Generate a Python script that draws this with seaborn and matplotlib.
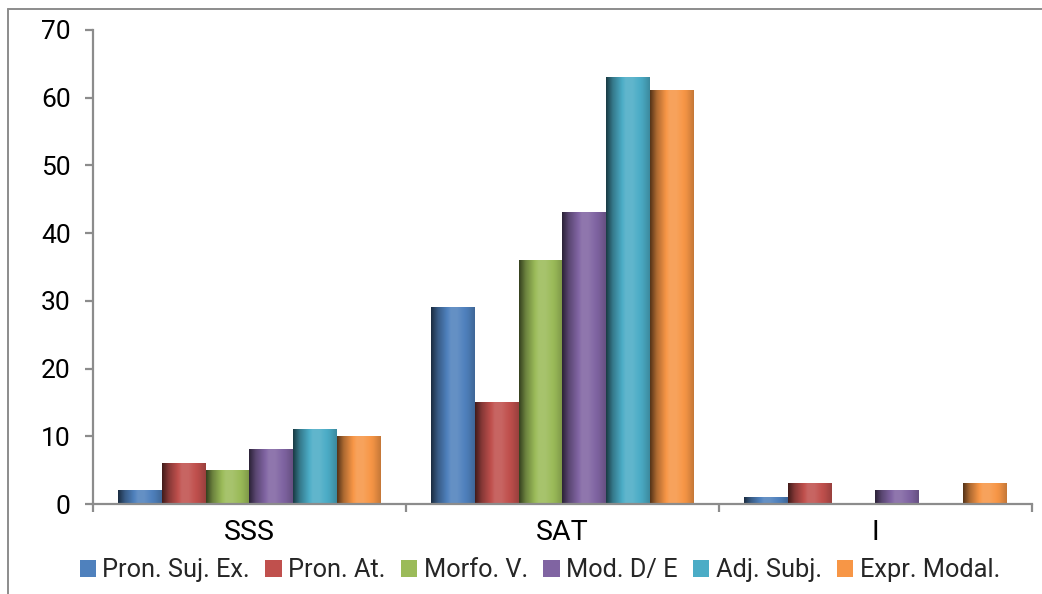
import numpy as np
import pandas as pd
import seaborn as sns
import matplotlib
matplotlib.use("Agg")
import matplotlib.pyplot as plt
from matplotlib.patches import Patch
from matplotlib.lines import Line2D
from matplotlib import colors as mcolors
from matplotlib import font_manager

categories = ["SSS", "SAT", "I"]
series = ["Pron. Suj. Ex.", "Pron. At.", "Morfo. V.", "Mod. D/ E", "Adj. Subj.", "Expr. Modal."]
pron_suj_ex = [2, 29, 1]
pron_at = [6, 15, 3]
morfo_v = [5, 36, 0]
mod_de = [8, 43, 2]
adj_subj = [11, 63, 0]
expr_modal = [10, 61, 3]
y_ticks = [0, 10, 20, 30, 40, 50, 60, 70]

palette = ["#4F81BD", "#C0504D", "#9BBB59", "#8064A2", "#4BACC6", "#F79646"]

values = [pron_suj_ex, pron_at, morfo_v, mod_de, adj_subj, expr_modal]
rows = []
for s, vals in zip(series, values):
    for c, v in zip(categories, vals):
        rows.append({"categoria": c, "serie": s, "valor": v})
df = pd.DataFrame(rows)

sns.set_theme(style="white")
available = {f.name for f in font_manager.fontManager.ttflist}
family = "Liberation Sans Narrow" if "Liberation Sans Narrow" in available else "Roboto"
plt.rcParams["font.family"] = [family, "DejaVu Sans"]

fig = plt.figure(figsize=(10.42, 5.94), dpi=100)
ax = fig.add_axes([0.0893, 0.1515, 0.9007, 0.798])

sns.barplot(data=df, x="categoria", y="valor", hue="serie", order=categories,
            hue_order=series, palette=palette, width=0.84, gap=0,
            saturation=1, errorbar=None, legend=False, ax=ax)


def shade(color):
    """Horizontal cylinder-like gradient: dark left edge, light centre, mid right."""
    base = np.array(mcolors.to_rgb(color))
    pos = np.array([0.0, 0.15, 0.45, 0.6, 0.85, 1.0])
    fac = np.array([0.35, 0.7, 1.12, 1.12, 0.95, 0.8])
    t = np.linspace(0, 1, 64)
    f = np.interp(t, pos, fac)
    rgb = np.empty((1, 64, 3))
    for i, k in enumerate(f):
        if k <= 1:
            rgb[0, i] = base * k
        else:
            rgb[0, i] = base + (1 - base) * (k - 1)
    return np.clip(rgb, 0, 1)


for container, col in zip(ax.containers, palette):
    grad = shade(col)
    for bar in container:
        h = bar.get_height()
        if h <= 0:
            continue
        x0 = bar.get_x()
        w = bar.get_width()
        ax.imshow(grad, extent=[x0, x0 + w, 0, h], aspect="auto",
                  interpolation="bilinear", zorder=2)
        bar.set_edgecolor("none")
        bar.set_facecolor("none")

ax.set_xlim(-0.5, 2.5)
ax.set_ylim(0, 70)
ax.set_yticks(y_ticks)
ax.set_xlabel("")
ax.set_ylabel("")

for side in ["top", "right"]:
    ax.spines[side].set_visible(False)
for side in ["left", "bottom"]:
    ax.spines[side].set_color("#8c8c8c")
    ax.spines[side].set_linewidth(1.6)
    ax.spines[side].set_zorder(4)

ax.tick_params(axis="y", which="major", direction="out", length=6, width=1.6,
               color="#8c8c8c", labelsize=19, pad=10, left=True)
ax.set_xticks(range(len(categories)))
ax.set_xticklabels(categories)
ax.set_xticks([-0.5, 0.5, 1.5, 2.5], minor=True)
ax.tick_params(axis="x", which="major", length=0, labelsize=20.5, pad=11)
ax.tick_params(axis="x", which="minor", direction="out", length=6, width=1.6,
               color="#8c8c8c", bottom=True)
for lab in ax.get_yticklabels() + ax.get_xticklabels():
    lab.set_color("black")

handles = [Patch(facecolor=c, edgecolor="none") for c in palette]
fig.legend(handles, series, loc="center", bbox_to_anchor=(0.518, 0.04), ncol=6,
           frameon=False, fontsize=18.3, handlelength=0.65, handleheight=0.65,
           handletextpad=0.25, columnspacing=0.6, borderaxespad=0)

# outer chart border (left and top edges)
fig.add_artist(Line2D([0.0077, 0.0077], [0.0, 0.985], color="#8c8c8c", lw=1.4,
                      transform=fig.transFigure))
fig.add_artist(Line2D([0.0077, 1.0], [0.985, 0.985], color="#8c8c8c", lw=1.4,
                      transform=fig.transFigure))

fig.savefig("out.png", dpi=100)
